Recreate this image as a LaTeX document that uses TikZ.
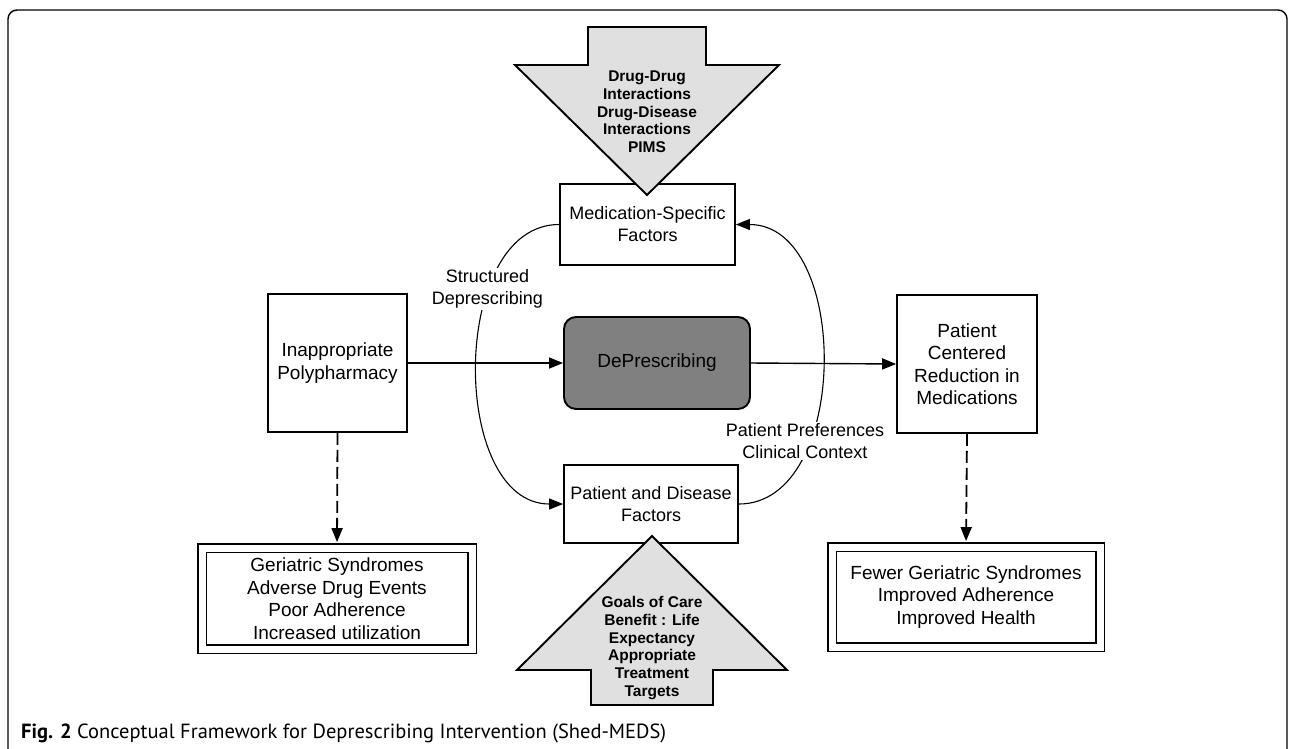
\documentclass[tikz,border=0pt]{standalone}
\usepackage{fontspec}
\setmainfont{Liberation Sans}
\newfontfamily\capfont{PT Sans}
\usetikzlibrary{arrows.meta}
\newcommand\myreg{\fontsize{19}{22.5}\selectfont}
\newcommand\mymed{\fontsize{18}{22}\selectfont}
\newcommand\mybold{\fontsize{15.5}{17.7}\selectfont\bfseries}
\begin{document}
\begin{tikzpicture}[x=1pt,y=-1pt,
  box/.style={draw, line width=1.7pt, fill=white, align=center, font=\myreg, inner sep=0pt},
  dblbox/.style={draw, line width=1.8pt, double=white, double distance=7pt, align=center, font=\myreg, inner sep=0pt},
  conn/.style={line width=1.4pt, -{Triangle[length=14pt,width=11pt]}},
  dconn/.style={line width=1.8pt, dash pattern=on 12pt off 5pt, -{Triangle[length=14pt,width=11pt]}},
  curve/.style={line width=1.1pt},
  curvearr/.style={line width=1.1pt, -{Triangle[length=14pt,width=11pt]}},
  bigarrow/.style={draw, line width=1.9pt, fill=black!12, line join=miter},
  lbl/.style={fill=white, align=center, font=\mymed, inner sep=1.5pt},
  boldtxt/.style={align=center, font=\mybold, inner sep=0pt}]
\useasboundingbox (0,0) rectangle (1295,748);
% frame
\draw[line width=1.4pt, rounded corners=9pt] (8,752) -- (8,10) -- (1287,10) -- (1287,752);
% boxes
\node[box, minimum width=175pt, minimum height=81pt, font=\mymed] (med) at (647.5,224.5) {Medication-Specific\\Factors};
\node[box, minimum width=186pt, minimum height=92pt, fill=black!50, rounded corners=12pt, line width=1.9pt] (dep) at (657,363) {DePrescribing};
\node[box, minimum width=139pt, minimum height=138pt] (inapp) at (337.5,363) {Inappropriate\\Polypharmacy};
\node[box, minimum width=140pt, minimum height=138pt] (pcr) at (967,364) {Patient\\Centered\\Reduction in\\Medications};
\node[box, minimum width=174pt, minimum height=78pt, font=\mymed] (pd) at (651,504) {Patient and Disease\\Factors};
\node[dblbox, minimum width=270pt, minimum height=101pt] (lout) at (337,598.5) {Geriatric Syndromes\\Adverse Drug Events\\Poor Adherence\\Increased utilization};
\node[dblbox, minimum width=268pt, minimum height=100pt] (rout) at (966,597) {Fewer Geriatric Syndromes\\Improved Adherence\\Improved Health};
% big arrows
\draw[bigarrow] (588,27) -- (706,27) -- (706,65) -- (779,65) -- (647,195) -- (515,65) -- (588,65) -- cycle;
\node[boldtxt] (toptxt) at (647,112) {Drug-Drug\\Interactions\\Drug-Disease\\Interactions\\PIMS};
\draw[bigarrow] (591,705) -- (713,705) -- (713,670) -- (787,670) -- (652,536) -- (517,670) -- (591,670) -- cycle;
\node[boldtxt] (bottxt) at (652,648) {Goals of Care\\Benefit : Life\\Expectancy\\Appropriate\\Treatment\\Targets};
% connectors
\draw[conn] (inapp.east) -- (dep.west);
\draw[conn] (dep.east) -- (pcr.west);
\draw[dconn, shorten >=5pt] (inapp.south) -- (lout.north);
\draw[dconn, shorten >=5pt] (pcr.south) -- (rout.north);
% curves
\draw[curvearr] (med.west) .. controls +(-110,0) and +(-114,0) .. (pd.west);
\draw[curvearr] (pd.east) .. controls +(112,0) and +(115,0) .. (med.east);
\node[lbl] (sd) at (487.5,289) {Structured\\Deprescribing};
\node[lbl] (ppcc) at (805,441) {Patient Preferences\\Clinical Context};
% caption
\node[anchor=west, inner sep=0pt, font=\capfont\fontsize{20.5}{22}\selectfont] (cap) at (21,733) {\textbf{Fig. 2} Conceptual Framework for Deprescribing Intervention (Shed-MEDS)};
\end{tikzpicture}
\end{document}
